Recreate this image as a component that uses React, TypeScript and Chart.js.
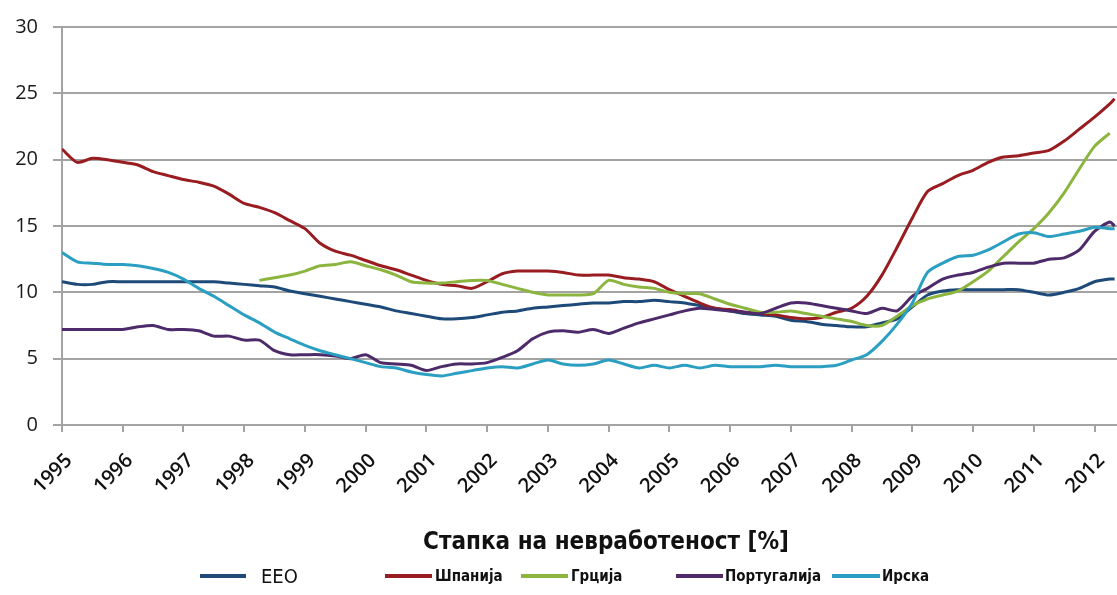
import React, { useEffect, useRef } from "react";
import { Chart, registerables } from "chart.js";

Chart.register(...registerables);

// Quarterly observations (decimal years), last entry is May 2012
const decimalYears = [
  1995.0, 1995.25, 1995.5, 1995.75,
  1996.0, 1996.25, 1996.5, 1996.75,
  1997.0, 1997.25, 1997.5, 1997.75,
  1998.0, 1998.25, 1998.5, 1998.75,
  1999.0, 1999.25, 1999.5, 1999.75,
  2000.0, 2000.25, 2000.5, 2000.75,
  2001.0, 2001.25, 2001.5, 2001.75,
  2002.0, 2002.25, 2002.5, 2002.75,
  2003.0, 2003.25, 2003.5, 2003.75,
  2004.0, 2004.25, 2004.5, 2004.75,
  2005.0, 2005.25, 2005.5, 2005.75,
  2006.0, 2006.25, 2006.5, 2006.75,
  2007.0, 2007.25, 2007.5, 2007.75,
  2008.0, 2008.25, 2008.5, 2008.75,
  2009.0, 2009.25, 2009.5, 2009.75,
  2010.0, 2010.25, 2010.5, 2010.75,
  2011.0, 2011.25, 2011.5, 2011.75,
  2012.0, 2012.25, 2012.33,
];

const eeo = [
  10.8, 10.6, 10.6, 10.8,
  10.8, 10.8, 10.8, 10.8,
  10.8, 10.8, 10.8, 10.7,
  10.6, 10.5, 10.4, 10.1,
  9.9, 9.7, 9.5, 9.3,
  9.1, 8.9, 8.6, 8.4,
  8.2, 8.0, 8.0, 8.1,
  8.3, 8.5, 8.6, 8.8,
  8.9, 9.0, 9.1, 9.2,
  9.2, 9.3, 9.3, 9.4,
  9.3, 9.2, 9.0, 8.8,
  8.6, 8.4, 8.3, 8.2,
  7.9, 7.8, 7.6, 7.5,
  7.4, 7.4, 7.7, 8.0,
  8.9, 9.8, 10.1, 10.2,
  10.2, 10.2, 10.2, 10.2,
  10.0, 9.8, 10.0, 10.3,
  10.8, 11.0, 11.0,
];

const spain = [
  20.8, 19.8, 20.1, 20.0,
  19.8, 19.6, 19.1, 18.8,
  18.5, 18.3, 18.0, 17.4,
  16.7, 16.4, 16.0, 15.4,
  14.8, 13.7, 13.1, 12.8,
  12.4, 12.0, 11.7, 11.3,
  10.9, 10.6, 10.5, 10.3,
  10.8, 11.4, 11.6, 11.6,
  11.6, 11.5, 11.3, 11.3,
  11.3, 11.1, 11.0, 10.8,
  10.2, 9.7, 9.2, 8.8,
  8.7, 8.5, 8.4, 8.3,
  8.1, 8.0, 8.1, 8.5,
  8.8, 9.7, 11.3, 13.4,
  15.6, 17.6, 18.2, 18.8,
  19.2, 19.8, 20.2, 20.3,
  20.5, 20.7, 21.4, 22.3,
  23.2, 24.2, 24.6,
];

const greece = [
  null, null, null, null,
  null, null, null, null,
  null, null, null, null,
  null, 10.9, 11.1, 11.3,
  11.6, 12.0, 12.1, 12.3,
  12.0, 11.7, 11.3, 10.8,
  10.7, 10.7, 10.8, 10.9,
  10.9, 10.6, 10.3, 10.0,
  9.8, 9.8, 9.8, 9.9,
  10.9, 10.6, 10.4, 10.3,
  10.0, 9.9, 9.9, 9.5,
  9.1, 8.8, 8.5, 8.5,
  8.6, 8.4, 8.2, 8.0,
  7.8, 7.5, 7.5, 8.2,
  9.0, 9.5, 9.8, 10.1,
  10.8, 11.6, 12.7, 13.8,
  14.8, 16.0, 17.5, 19.3,
  21.0, 22.0, null,
];

const portugal = [
  7.2, 7.2, 7.2, 7.2,
  7.2, 7.4, 7.5, 7.2,
  7.2, 7.1, 6.7, 6.7,
  6.4, 6.4, 5.6, 5.3,
  5.3, 5.3, 5.2, 5.0,
  5.3, 4.7, 4.6, 4.5,
  4.1, 4.4, 4.6, 4.6,
  4.7, 5.1, 5.6, 6.5,
  7.0, 7.1, 7.0, 7.2,
  6.9, 7.3, 7.7, 8.0,
  8.3, 8.6, 8.8, 8.7,
  8.6, 8.5, 8.4, 8.8,
  9.2, 9.2, 9.0, 8.8,
  8.6, 8.4, 8.8, 8.6,
  9.7, 10.3, 11.0, 11.3,
  11.5, 11.9, 12.2, 12.2,
  12.2, 12.5, 12.6, 13.2,
  14.6, 15.3, 15.0,
];

const ireland = [
  13.0, 12.3, 12.2, 12.1,
  12.1, 12.0, 11.8, 11.5,
  11.0, 10.3, 9.7, 9.0,
  8.3, 7.7, 7.0, 6.5,
  6.0, 5.6, 5.3, 5.0,
  4.7, 4.4, 4.3, 4.0,
  3.8, 3.7, 3.9, 4.1,
  4.3, 4.4, 4.3, 4.6,
  4.9, 4.6, 4.5, 4.6,
  4.9, 4.6, 4.3, 4.5,
  4.3, 4.5, 4.3, 4.5,
  4.4, 4.4, 4.4, 4.5,
  4.4, 4.4, 4.4, 4.5,
  4.9, 5.3, 6.3, 7.6,
  9.2, 11.5, 12.2, 12.7,
  12.8, 13.2, 13.8, 14.4,
  14.5, 14.2, 14.4, 14.6,
  14.9, 14.8, 14.8,
];

const seriesNames = ["ЕЕО", "Шпанија", "Грција", "Португалија", "Ирска"];
const seriesValues = [eeo, spain, greece, portugal, ireland];
const seriesColors = ["#1d4a78", "#981c20", "#8cb540", "#4d2a6a", "#2a9fc2"];

const yTickStep = 5;
const yMax = 30;
const xFirstYear = 1995;
const xEnd = 2012.37;

// Legend layout: line sample start/end and text start (px), plus text style
const legendSlots = [
  { lineFrom: 200, lineTo: 246, textAt: 261, size: 20, weight: "normal" },
  { lineFrom: 385, lineTo: 432, textAt: 435, size: 15, weight: "bold" },
  { lineFrom: 521, lineTo: 568, textAt: 571, size: 15, weight: "bold" },
  { lineFrom: 676, lineTo: 723, textAt: 725, size: 15, weight: "bold" },
  { lineFrom: 832, lineTo: 880, textAt: 882, size: 15, weight: "bold" },
];

const axisTitle = "Стапка на невработеност [%]";

const W = 1117;
const H = 595;
const gridColor = "#a3a3a3";
const narrowFont = '"Liberation Sans Narrow", "DejaVu Sans Condensed", "Liberation Sans", sans-serif';

export default function App() {
  const canvasRef = useRef<HTMLCanvasElement | null>(null);

  useEffect(() => {
    const canvas = canvasRef.current;
    if (!canvas) return;
    const datasets = seriesNames.map((name, i) => ({
      label: name,
      data: decimalYears.map((x, k) => ({ x, y: seriesValues[i][k] })),
      borderColor: seriesColors[i],
      backgroundColor: seriesColors[i],
      borderWidth: 3,
      pointRadius: 0,
      tension: 0.25,
      fill: false,
      order: seriesNames.length - i,
    }));

    const chart = new Chart(canvas, {
      type: "line",
      data: { datasets },
      options: {
        animation: false,
        responsive: false,
        maintainAspectRatio: false,
        layout: { padding: { top: 16, right: 0, bottom: 0, left: 0 } },
        plugins: {
          legend: { display: false },
          tooltip: { enabled: false },
        },
        scales: {
          x: {
            type: "linear",
            min: xFirstYear,
            max: xEnd,
            afterFit: (s: any) => {
              // fixed band for the rotated year labels; keep the plot full width
              s.height = 170;
              s.paddingLeft = 0;
              s.paddingRight = 0;
            },
            grid: {
              drawOnChartArea: false,
              drawTicks: true,
              tickLength: 7,
              color: gridColor,
              lineWidth: 2,
            },
            border: { display: true, color: gridColor, width: 2 },
            ticks: {
              stepSize: 1,
              includeBounds: false,
              autoSkip: false,
              minRotation: 45,
              maxRotation: 45,
              padding: 17,
              labelOffset: 7,
              color: "#111",
              font: { family: '"Open Sans", sans-serif', size: 20, weight: "600" },
              callback: (v: any) => String(Math.round(Number(v))),
            },
          },
          y: {
            min: 0,
            max: yMax,
            afterFit: (s: any) => {
              s.width = 62;
            },
            grid: { color: gridColor, lineWidth: 2, tickLength: 9 },
            border: { display: true, color: gridColor, width: 2 },
            ticks: {
              stepSize: yTickStep,
              padding: 15,
              color: "#1a1a1a",
              font: { family: '"Open Sans", sans-serif', size: 20 },
            },
          },
        },
      },
    });
    return () => chart.destroy();
  }, []);

  return (
    <div style={{ position: "absolute", left: 0, top: 0, width: W, height: H, background: "#fff", overflow: "hidden" }}>
      <canvas ref={canvasRef} width={W} height={H} style={{ display: "block", width: W, height: H }} />
      <div
        style={{
          position: "absolute",
          left: 606,
          top: 527,
          transform: "translateX(-50%)",
          whiteSpace: "nowrap",
          fontFamily: narrowFont,
          fontWeight: "bold",
          fontSize: 24,
          color: "#111",
          lineHeight: "28px",
        }}
      >
        {axisTitle}
      </div>
      {seriesNames.map((name, i) => {
        const slot = legendSlots[i];
        return (
          <React.Fragment key={name}>
            <div
              style={{
                position: "absolute",
                left: slot.lineFrom,
                top: 574,
                width: slot.lineTo - slot.lineFrom,
                height: 4,
                background: seriesColors[i],
              }}
            />
            <div
              style={{
                position: "absolute",
                left: slot.textAt,
                top: 576 - 12,
                height: 24,
                lineHeight: "24px",
                whiteSpace: "nowrap",
                fontFamily: narrowFont,
                fontWeight: slot.weight as any,
                fontSize: slot.size,
                color: "#111",
              }}
            >
              {name}
            </div>
          </React.Fragment>
        );
      })}
    </div>
  );
}
